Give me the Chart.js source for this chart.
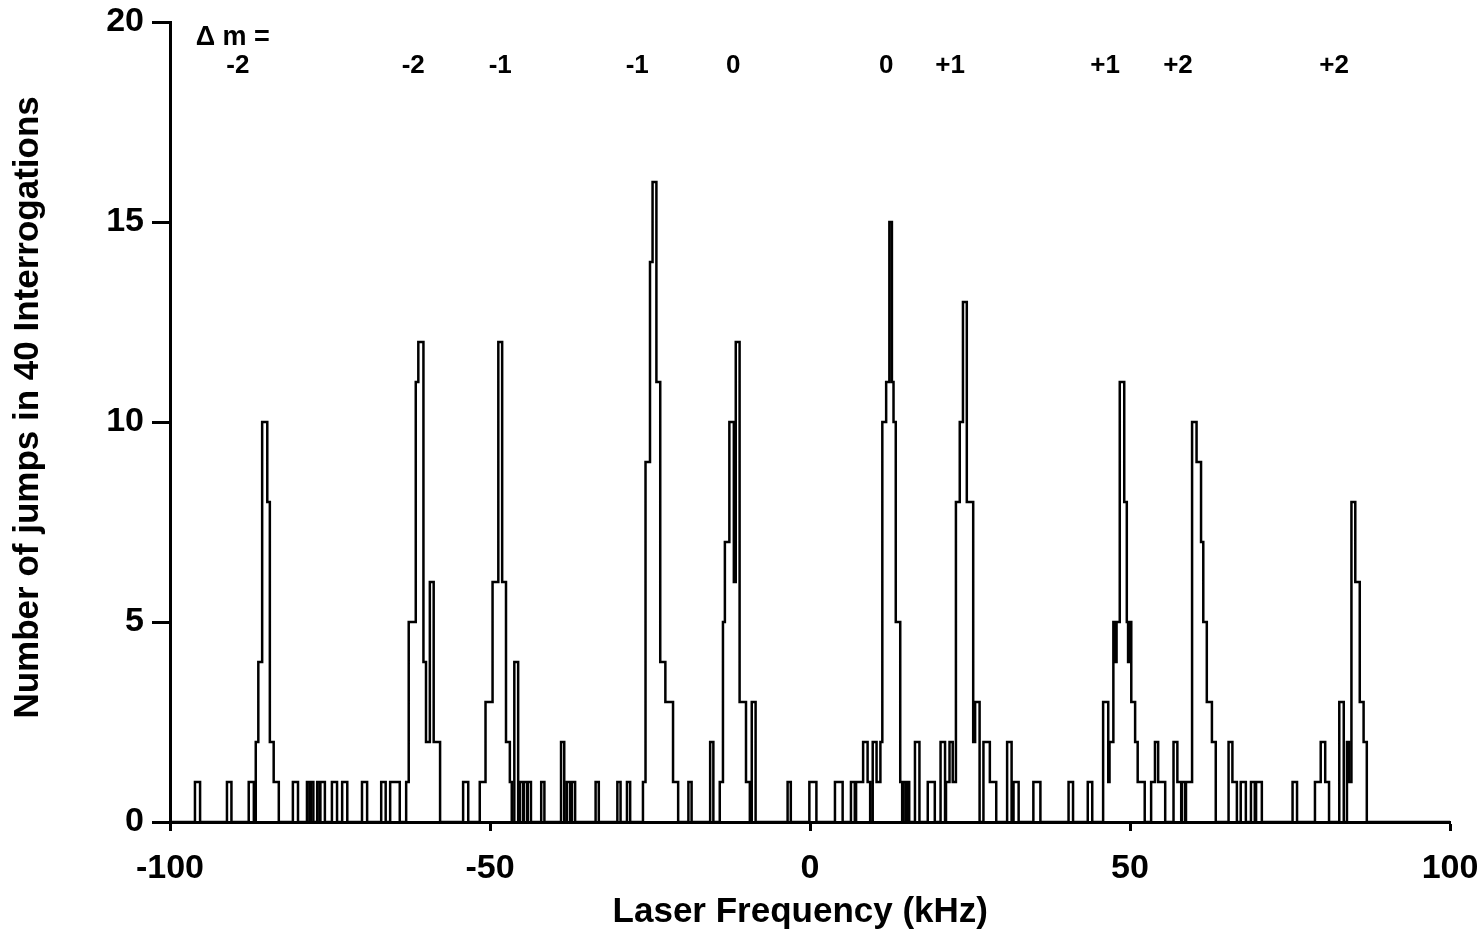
<!DOCTYPE html>
<html>
<head>
<meta charset="utf-8">
<script src="https://cdn.jsdelivr.net/npm/chart.js@4"></script>
<style>
  body { margin: 0; background: #fff; }
  #wrap { width: 1481px; height: 933px; }
</style>
</head>
<body>
<div id="wrap"><canvas id="myChart" width="1481" height="933"></canvas></div>
<script>
// step edges (kHz) and jump counts; each count holds until the next edge
const freq = [
  -100,
  -96.1, -95.3, -91.1, -90.4, -87.7, -86.9,
  -86.6, -86.2, -85.6, -84.8, -84.4, -83.8, -83.0,
  -80.8, -80.0, -78.6, -78.2, -78.0, -77.6, -77.0, -76.6, -76.5, -75.8,
  -74.7, -73.9, -73.1, -72.3, -70.0, -69.2, -67.0, -66.3, -65.6, -64.1,
  -63.1, -62.7, -61.6, -61.2, -60.4, -60.0, -59.4, -58.8, -57.8,
  -54.2, -53.4,
  -51.6, -50.7, -49.6, -48.7, -48.1, -47.5, -46.9, -46.6, -46.2, -45.6,
  -45.3, -44.8, -44.7, -44.2, -44.1, -43.6, -42.0, -41.5,
  -38.9, -38.4, -38.0, -37.5, -37.2, -36.7, -33.5, -33.0, -30.1, -29.6, -28.6, -28.1,
  -26.1, -25.7, -25.0, -24.6, -24.0, -23.4, -22.6, -21.4, -20.6,
  -19.0, -18.5, -15.6, -15.1,
  -14.1, -13.6, -13.3, -12.6, -11.9, -11.6, -11.0, -10.0, -9.4, -9.1, -8.5,
  -3.5, -3.0, -0.1, 1.0, 3.9, 5.1, 6.4, 7.0,
  7.2, 8.3, 9.0, 9.4,
  9.8, 10.4, 11.0, 11.3, 11.9, 12.4, 12.8, 13.05, 13.4, 14.1, 14.4, 14.6, 15.0, 15.2, 15.5,
  16.4, 17.1, 18.4, 19.5,
  20.4, 21.1, 21.25, 21.8, 22.3, 22.8, 23.4, 23.9, 24.5, 25.5, 25.8, 26.5, 27.1, 28.1, 29.1,
  30.8, 31.5, 31.8, 32.6, 34.9, 36.0, 40.4, 41.1, 43.4, 44.1,
  45.8, 46.6, 46.8, 47.4, 47.7, 47.9, 48.4, 49.1, 49.5, 49.7, 49.95, 50.2, 50.8, 51.2, 52.3,
  53.3, 53.9, 54.4, 55.5,
  56.8, 57.4, 58.0, 58.1, 58.6, 58.75, 59.7, 60.4, 61.1, 61.45, 62.0, 62.8, 63.4,
  65.4, 66.0, 66.7, 67.3, 68.1, 68.9, 69.5, 69.7, 70.6, 75.4, 76.1,
  78.9, 79.8, 80.5, 81.1,
  82.7, 83.4, 83.9, 84.2, 84.6, 85.2, 85.9, 86.5, 87.0,
  100
];
const jumps = [
  0,
  1, 0, 1, 0, 1, 0,
  2, 4, 10, 8, 2, 1, 0,
  1, 0, 1, 0, 1, 0, 1, 0, 1, 0,
  1, 0, 1, 0, 1, 0, 1, 0, 1, 0,
  1, 5, 11, 12, 4, 2, 6, 2, 0,
  1, 0,
  1, 3, 6, 12, 6, 2, 1, 0, 4, 0,
  1, 0, 1, 0, 1, 0, 1, 0,
  2, 0, 1, 0, 1, 0, 1, 0, 1, 0, 1, 0,
  1, 9, 14, 16, 11, 4, 3, 1, 0,
  1, 0, 2, 0,
  1, 5, 7, 10, 6, 12, 3, 1, 0, 3, 0,
  1, 0, 1, 0, 1, 0, 1, 0,
  1, 2, 1, 0,
  2, 1, 2, 10, 11, 15, 11, 10, 5, 1, 0, 1, 0, 1, 0,
  2, 0, 1, 0,
  2, 0, 1, 2, 1, 8, 10, 13, 8, 2, 3, 0, 2, 1, 0,
  2, 0, 1, 0, 1, 0, 1, 0, 1, 0,
  3, 1, 2, 5, 4, 5, 11, 8, 5, 4, 5, 3, 2, 1, 0,
  1, 2, 1, 0,
  2, 1, 0, 1, 0, 1, 10, 9, 7, 5, 3, 2, 0,
  2, 1, 0, 1, 0, 1, 0, 1, 0, 1, 0,
  1, 2, 1, 0,
  3, 0, 2, 1, 8, 6, 3, 2, 0,
  0
];

// transition labels along the top
const labelFreq = [-89.4, -62.0, -48.4, -27.0, -12.0, 11.9, 21.9, 46.1, 57.5, 81.9];
const labelText = ['-2', '-2', '-1', '-1', '0', '0', '+1', '+1', '+2', '+2'];
const labelRow = 18.9;
const headText = '\u0394 m =';
const headFreq = -90.2;
const headRow = 19.62;

const FONT = '"Liberation Sans", Arial, sans-serif';

const dmLabels = {
  id: 'dmLabels',
  afterDatasetsDraw(chart) {
    const { ctx, scales: { x, y } } = chart;
    ctx.save();
    ctx.fillStyle = '#000';
    ctx.textAlign = 'center';
    ctx.textBaseline = 'middle';
    ctx.font = 'bold 26px ' + FONT;
    labelFreq.forEach((f, i) => {
      ctx.fillText(labelText[i], x.getPixelForValue(f), y.getPixelForValue(labelRow));
    });
    ctx.font = 'bold 27px ' + FONT;
    ctx.fillText(headText, x.getPixelForValue(headFreq), y.getPixelForValue(headRow));
    ctx.restore();
  }
};

const ctx = document.getElementById('myChart');

const chart = new Chart(ctx, {
  type: 'line',
  data: {
    datasets: [{
      data: freq.map((f, i) => ({ x: f, y: jumps[i] })),
      stepped: 'before',
      borderColor: '#000',
      borderWidth: 2.5,
      pointRadius: 0,
      fill: false,
      tension: 0
    }]
  },
  options: {
    responsive: false,
    animation: false,
    layout: { padding: { top: 22, right: 31, left: 0, bottom: 0 } },
    plugins: { legend: { display: false }, tooltip: { enabled: false } },
    scales: {
      x: {
        type: 'linear',
        min: -100,
        max: 100,
        afterFit: (s) => { s.height = 111; s.paddingLeft = 0; s.paddingRight = 0; },
        ticks: { stepSize: 50, color: '#000', padding: 17, font: { family: FONT, size: 34, weight: 'bold' } },
        grid: { drawOnChartArea: false, drawTicks: true, tickLength: 9, tickWidth: 3, tickColor: '#000' },
        border: { display: true, color: '#000', width: 3 },
        // trailing spaces nudge the centred title a little left, as in the original
        title: { display: true, text: 'Laser Frequency (kHz)  ', color: '#000', padding: { top: 0, bottom: 0 }, font: { family: FONT, size: 35, weight: 'bold' } }
      },
      y: {
        min: 0,
        max: 20,
        afterFit: (s) => { s.width = 170; s.paddingTop = 0; s.paddingBottom = 0; },
        ticks: { stepSize: 5, color: '#000', padding: 8, font: { family: FONT, size: 34, weight: 'bold' } },
        grid: { drawOnChartArea: false, drawTicks: true, tickLength: 18, tickWidth: 3, tickColor: '#000' },
        border: { display: true, color: '#000', width: 3 },
        title: { display: true, text: '   Number of jumps in 40 Interrogations', color: '#000', padding: { top: 7, bottom: 0 }, font: { family: FONT, size: 35, weight: 'bold' } }
      }
    }
  },
  plugins: [dmLabels]
});
</script>
</body>
</html>
